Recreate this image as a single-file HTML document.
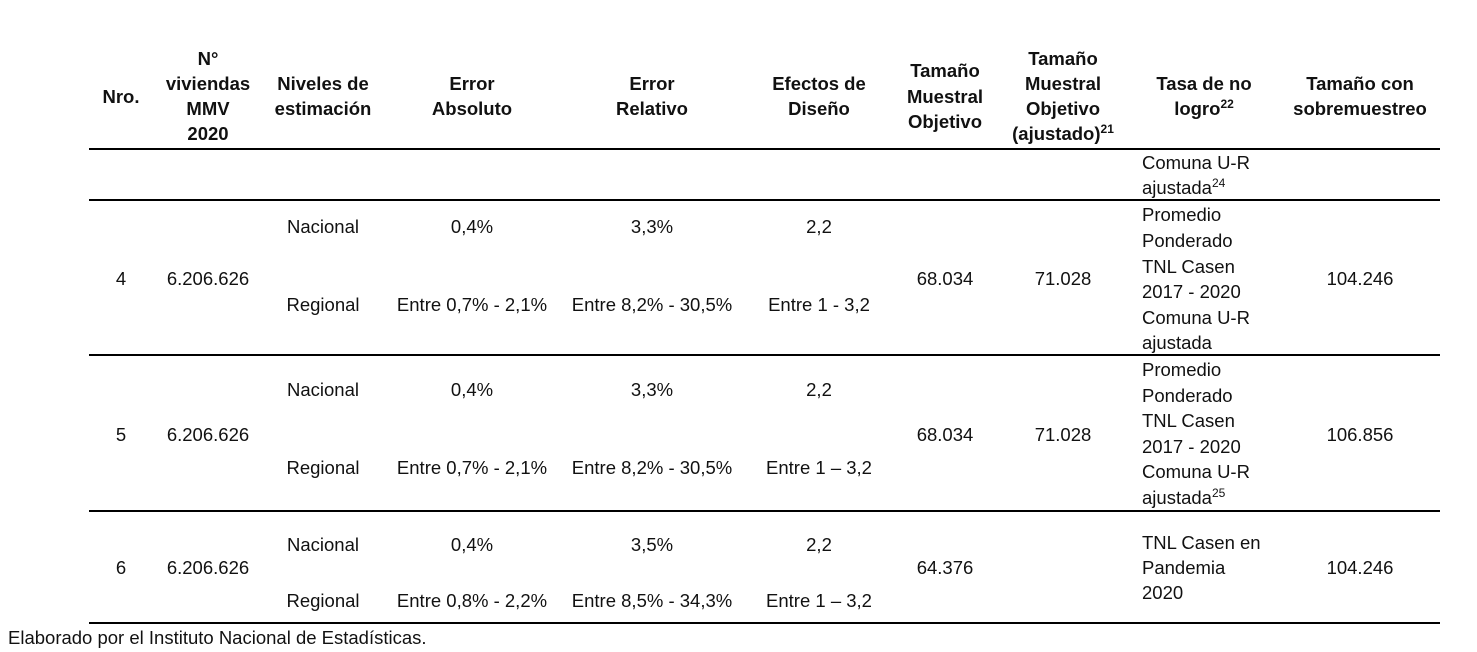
<!DOCTYPE html>
<html><head><meta charset="utf-8">
<style>
html,body{margin:0;padding:0;background:#fff;}
#page{position:relative;width:1477px;height:652px;overflow:hidden;font-family:"Liberation Sans",sans-serif;font-size:18.5px;color:#111;}
.t{position:absolute;transform:translate(-50%,-50%);white-space:nowrap;}
.l{position:absolute;transform:translateY(-50%);white-space:nowrap;}
.b{font-weight:bold;}
.hr{position:absolute;left:89px;width:1351px;height:2px;background:#000;}
sup{font-size:12px;vertical-align:7px;line-height:0;}
</style></head>
<body>
<div id="page">
<div class="hr" style="top:148px"></div>
<div class="hr" style="top:199px"></div>
<div class="hr" style="top:354px"></div>
<div class="hr" style="top:510px"></div>
<div class="hr" style="top:622px"></div>

<div>
<div class="t b" style="left:121px;top:97px">Nro.</div>
<div class="t b" style="left:208px;top:59px">N°</div>
<div class="t b" style="left:208px;top:84px">viviendas</div>
<div class="t b" style="left:208px;top:109px">MMV</div>
<div class="t b" style="left:208px;top:134px">2020</div>
<div class="t b" style="left:323px;top:84px">Niveles de</div>
<div class="t b" style="left:323px;top:109px">estimación</div>
<div class="t b" style="left:472px;top:84px">Error</div>
<div class="t b" style="left:472px;top:109px">Absoluto</div>
<div class="t b" style="left:652px;top:84px">Error</div>
<div class="t b" style="left:652px;top:109px">Relativo</div>
<div class="t b" style="left:819px;top:84px">Efectos de</div>
<div class="t b" style="left:819px;top:109px">Diseño</div>
<div class="t b" style="left:945px;top:71px">Tamaño</div>
<div class="t b" style="left:945px;top:97px">Muestral</div>
<div class="t b" style="left:945px;top:122px">Objetivo</div>
<div class="t b" style="left:1063px;top:59px">Tamaño</div>
<div class="t b" style="left:1063px;top:84px">Muestral</div>
<div class="t b" style="left:1063px;top:109px">Objetivo</div>
<div class="t b" style="left:1063px;top:134px">(ajustado)<sup>21</sup></div>
<div class="t b" style="left:1204px;top:84px">Tasa de no</div>
<div class="t b" style="left:1204px;top:109px">logro<sup>22</sup></div>
<div class="t b" style="left:1360px;top:84px">Tamaño con</div>
<div class="t b" style="left:1360px;top:109px">sobremuestreo</div>
</div>

<div>
<div class="l" style="left:1142px;top:163px">Comuna U-R</div>
<div class="l" style="left:1142px;top:188px">ajustada<sup>24</sup></div>
</div>

<div>
<div class="t" style="left:121px;top:279px">4</div>
<div class="t" style="left:208px;top:279px">6.206.626</div>
<div class="t" style="left:323px;top:227px">Nacional</div>
<div class="t" style="left:323px;top:305px">Regional</div>
<div class="t" style="left:472px;top:227px">0,4%</div>
<div class="t" style="left:472px;top:305px">Entre 0,7% - 2,1%</div>
<div class="t" style="left:652px;top:227px">3,3%</div>
<div class="t" style="left:652px;top:305px">Entre 8,2% - 30,5%</div>
<div class="t" style="left:819px;top:227px">2,2</div>
<div class="t" style="left:819px;top:305px">Entre 1 - 3,2</div>
<div class="t" style="left:945px;top:279px">68.034</div>
<div class="t" style="left:1063px;top:279px">71.028</div>
<div class="l" style="left:1142px;top:215px">Promedio</div>
<div class="l" style="left:1142px;top:241px">Ponderado</div>
<div class="l" style="left:1142px;top:267px">TNL Casen</div>
<div class="l" style="left:1142px;top:292px">2017 - 2020</div>
<div class="l" style="left:1142px;top:318px">Comuna U-R</div>
<div class="l" style="left:1142px;top:343px">ajustada</div>
<div class="t" style="left:1360px;top:279px">104.246</div>
</div>

<div>
<div class="t" style="left:121px;top:435px">5</div>
<div class="t" style="left:208px;top:435px">6.206.626</div>
<div class="t" style="left:323px;top:390px">Nacional</div>
<div class="t" style="left:323px;top:468px">Regional</div>
<div class="t" style="left:472px;top:390px">0,4%</div>
<div class="t" style="left:472px;top:468px">Entre 0,7% - 2,1%</div>
<div class="t" style="left:652px;top:390px">3,3%</div>
<div class="t" style="left:652px;top:468px">Entre 8,2% - 30,5%</div>
<div class="t" style="left:819px;top:390px">2,2</div>
<div class="t" style="left:819px;top:468px">Entre 1 – 3,2</div>
<div class="t" style="left:945px;top:435px">68.034</div>
<div class="t" style="left:1063px;top:435px">71.028</div>
<div class="l" style="left:1142px;top:370px">Promedio</div>
<div class="l" style="left:1142px;top:396px">Ponderado</div>
<div class="l" style="left:1142px;top:421px">TNL Casen</div>
<div class="l" style="left:1142px;top:447px">2017 - 2020</div>
<div class="l" style="left:1142px;top:472px">Comuna U-R</div>
<div class="l" style="left:1142px;top:498px">ajustada<sup>25</sup></div>
<div class="t" style="left:1360px;top:435px">106.856</div>
</div>

<div>
<div class="t" style="left:121px;top:568px">6</div>
<div class="t" style="left:208px;top:568px">6.206.626</div>
<div class="t" style="left:323px;top:545px">Nacional</div>
<div class="t" style="left:323px;top:601px">Regional</div>
<div class="t" style="left:472px;top:545px">0,4%</div>
<div class="t" style="left:472px;top:601px">Entre 0,8% - 2,2%</div>
<div class="t" style="left:652px;top:545px">3,5%</div>
<div class="t" style="left:652px;top:601px">Entre 8,5% - 34,3%</div>
<div class="t" style="left:819px;top:545px">2,2</div>
<div class="t" style="left:819px;top:601px">Entre 1 – 3,2</div>
<div class="t" style="left:945px;top:568px">64.376</div>
<div class="l" style="left:1142px;top:543px">TNL Casen en</div>
<div class="l" style="left:1142px;top:568px">Pandemia</div>
<div class="l" style="left:1142px;top:593px">2020</div>
<div class="t" style="left:1360px;top:568px">104.246</div>
</div>

<div class="l" style="left:8px;top:638px">Elaborado por el Instituto Nacional de Estadísticas.</div>
</div>
</body></html>
